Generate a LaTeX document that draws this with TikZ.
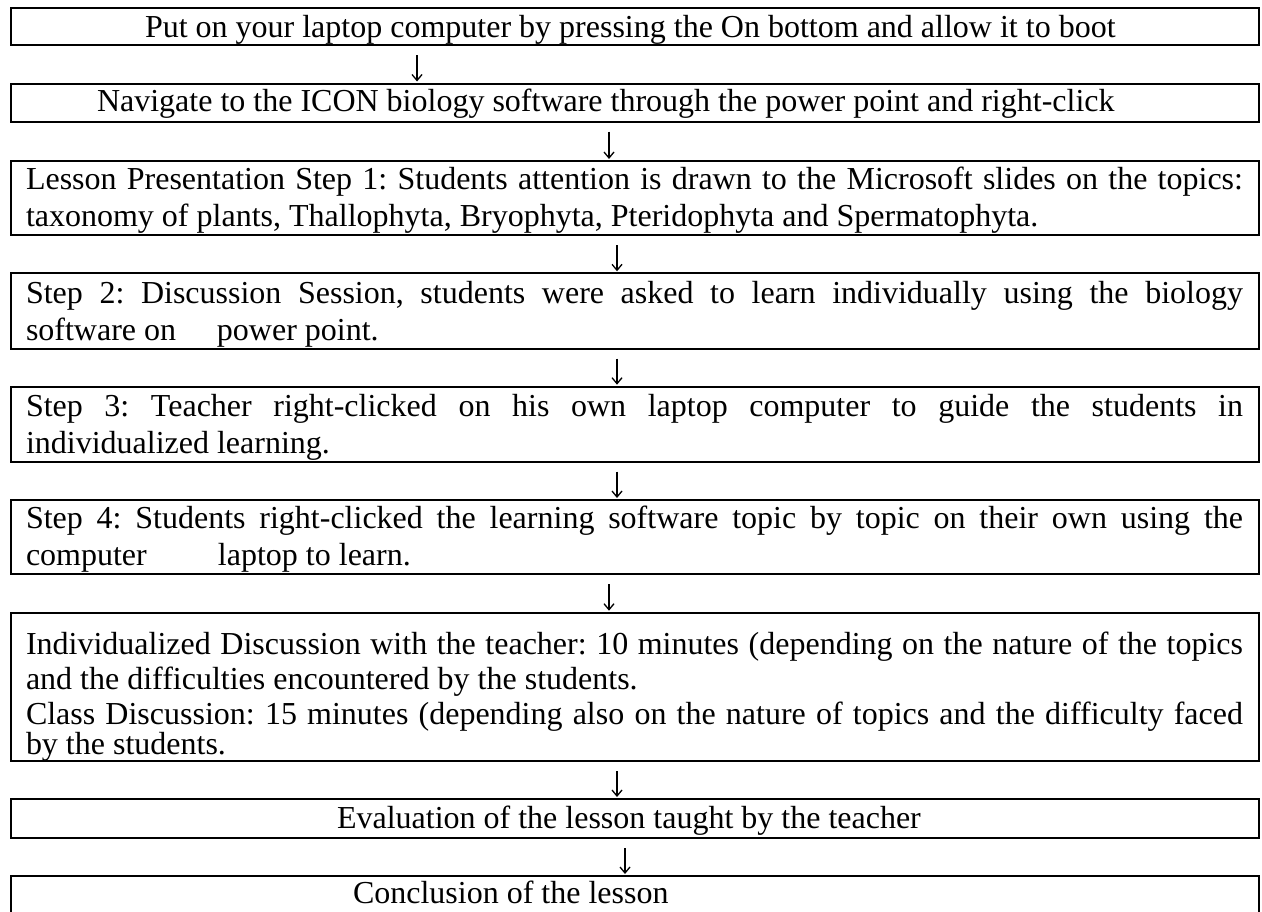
\documentclass[tikz,border=0pt]{standalone}
\usepackage{fontspec}
\setmainfont{Liberation Serif}
\usetikzlibrary{arrows.meta}
\frenchspacing
\begin{document}
\begin{tikzpicture}[x=1pt,y=-1pt,
  stepbox/.style={draw=black, line width=2pt, rectangle, minimum width=1248pt,
    inner sep=0pt, outer sep=0pt, anchor=north west},
  line/.style={inner sep=0pt, outer sep=0pt, anchor=base west,
    font=\fontsize{32pt}{36.8pt}\selectfont},
  flow/.style={line width=1.3pt, -{Straight Barb[length=6pt,width=10pt]},
    shorten <=10pt, shorten >=2pt}
]
\useasboundingbox (0,0) rectangle (1262,911);
\clip (0,0) rectangle (1262,911);
\fill[white] (0,0) rectangle (1262,911);

% boxes
\node[stepbox, minimum height=37pt]   (b1) at (11,8) {};
\node[stepbox, minimum height=38pt]   (b2) at (11,83.5) {};
\node[stepbox, minimum height=74pt]   (b3) at (11,161) {};
\node[stepbox, minimum height=75.4pt] (b4) at (11,273.3) {};
\node[stepbox, minimum height=75pt]   (b5) at (11,386.7) {};
\node[stepbox, minimum height=74.3pt] (b6) at (11,500) {};
\node[stepbox, minimum height=148.3pt](b7) at (11,612.7) {};
\node[stepbox, minimum height=39pt]   (b8) at (11,799) {};
\node[stepbox, minimum height=45pt]   (b9) at (11,876) {};

% texts
\node[line] (t1) at (145,37) {Put on your laptop computer by pressing the On bottom and allow it to boot};
\node[line] (t2) at (97,111.7) {Navigate to the ICON biology software through the power point and right-click};

\node[line] (t3a) at (26,189.5) {\makebox[1217pt][s]{Lesson Presentation Step 1: Students attention is drawn to the Microsoft slides on the topics:}};
\node[line] (t3b) at (26,226) {taxonomy of plants, Thallophyta, Bryophyta, Pteridophyta and Spermatophyta.};

\node[line] (t4a) at (26,303.3) {\makebox[1217pt][s]{Step 2: Discussion Session, students were asked to learn individually using the biology}};
\node[line] (t4b) at (26,340) {\makebox[191pt][l]{software on}power point.};

\node[line] (t5a) at (26,416) {\makebox[1217pt][s]{Step 3: Teacher right-clicked on his own laptop computer to guide the students in}};
\node[line] (t5b) at (26,453) {individualized learning.};

\node[line] (t6a) at (26,528.3) {\makebox[1217pt][s]{Step 4: Students right-clicked the learning software topic by topic on their own using the}};
\node[line] (t6b) at (26,565) {\makebox[192pt][l]{computer}laptop to learn.};

\node[line] (t7a) at (26,654) {\makebox[1217pt][s]{Individualized Discussion with the teacher: 10 minutes (depending on the nature of the topics}};
\node[line] (t7b) at (26,689) {and the difficulties encountered by the students.};
\node[line] (t7c) at (26,724) {\makebox[1217pt][s]{Class Discussion: 15 minutes (depending also on the nature of topics and the difficulty faced}};
\node[line] (t7d) at (26,754) {by the students.};

\node[line] (t8) at (337,828.3) {Evaluation of the lesson taught by the teacher};
\node[line] (t9) at (353,903.3) {Conclusion of the lesson};

% connectors
\draw[flow] ([xshift=-218pt]b1.south) -- ([xshift=-218pt]b2.north);
\draw[flow] ([xshift=-26pt]b2.south) -- ([xshift=-26pt]b3.north);
\draw[flow] ([xshift=-18pt]b3.south) -- ([xshift=-18pt]b4.north);
\draw[flow] ([xshift=-18pt]b4.south) -- ([xshift=-18pt]b5.north);
\draw[flow] ([xshift=-18pt]b5.south) -- ([xshift=-18pt]b6.north);
\draw[flow] ([xshift=-26pt]b6.south) -- ([xshift=-26pt]b7.north);
\draw[flow] ([xshift=-18pt]b7.south) -- ([xshift=-18pt]b8.north);
\draw[flow] ([xshift=-10pt]b8.south) -- ([xshift=-10pt]b9.north);
\end{tikzpicture}
\end{document}
